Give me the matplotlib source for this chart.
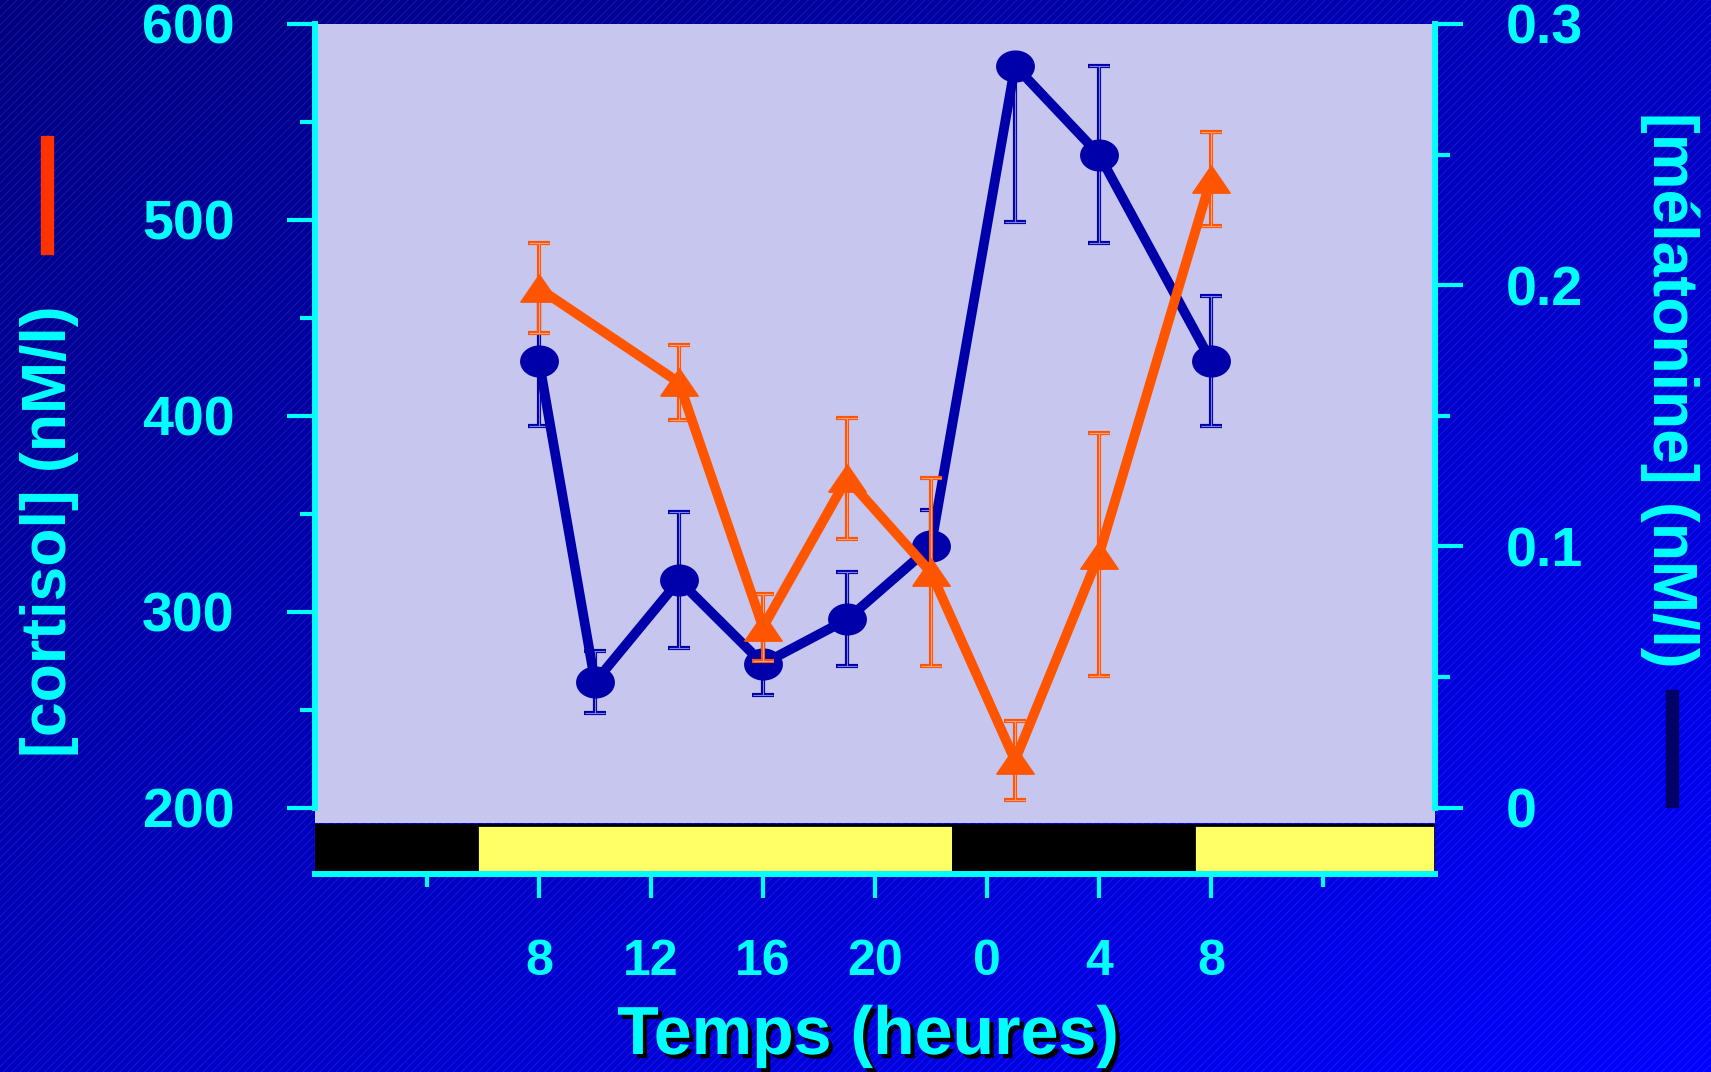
import numpy as np
import matplotlib
matplotlib.use("Agg")
import matplotlib.pyplot as plt
from matplotlib.patches import Rectangle
import matplotlib.patheffects as pe

# data
hours_mel = [8, 10, 13, 16, 19, 22, 25, 28, 32]
melatonine = [0.171, 0.048, 0.087, 0.055, 0.072, 0.100, 0.284, 0.250, 0.171]
mel_err_lo = [0.025, 0.012, 0.026, 0.012, 0.018, 0.014, 0.060, 0.034, 0.025]
mel_err_hi = [0.025, 0.012, 0.026, 0.012, 0.018, 0.014, 0.0, 0.034, 0.025]

hours_cort = [8, 13, 16, 19, 22, 25, 28, 32]
cortisol = [465, 417, 292, 368, 320, 224, 329, 521]
cort_err = [23, 19, 17, 31, 48, 20, 62, 24]

# light / dark bar under the plot
phase_start = [0, 5.8, 22.8, 31.4]
phase_end = [5.8, 22.8, 31.4, 40]
phase_color = ["black", "#FFFF66", "black", "#FFFF66"]

xticks = [8, 12, 16, 20, 24, 28, 32]
xtick_labels = ["8", "12", "16", "20", "0", "4", "8"]
xminor = [4, 36]
cort_ticks = [200, 300, 400, 500, 600]
cort_minor = [250, 350, 450, 550]
mel_ticks = [0, 0.1, 0.2, 0.3]
mel_tick_labels = ["0", "0.1", "0.2", "0.3"]
mel_minor = [0.05, 0.15, 0.25]

CYAN = "#00FFFF"
BLUE = "#0000AA"
ORANGE = "#FF5500"
LAVENDER = "#C6C6EE"

plt.rcParams["font.family"] = ["Liberation Sans", "DejaVu Sans"]
plt.rcParams["font.weight"] = "bold"
plt.rcParams["hatch.linewidth"] = 0.5
plt.rcParams["hatch.color"] = (0.6, 0.6, 1.0, 0.22)

W, H = 1711, 1072
fig = plt.figure(figsize=(W / 100, H / 100), dpi=100)

# blue gradient background with fine stripes
bg = fig.add_axes([0, 0, 1, 1], zorder=-10)
gx, gy = np.meshgrid(np.linspace(0, 1, 400), np.linspace(0, 1, 250))
t = 0.5 * gx + 0.5 * gy
img = np.zeros((250, 400, 3))
img[..., 2] = 0.5 + 0.5 * t
bg.imshow(img, extent=[0, 1, 0, 1], aspect="auto", origin="upper")
bg.add_patch(Rectangle((0, 0), 1, 1, transform=bg.transAxes, fill=False,
                       hatch="////", edgecolor=(0.6, 0.6, 1.0, 0.22), linewidth=0))
bg.set_xlim(0, 1)
bg.set_ylim(0, 1)
bg.axis("off")

# main axes (cortisol left, melatonin right)
top_px, bot_px, y200_px = 24, 823, 807.5
cort_low = 200 - (bot_px - y200_px) / (y200_px - top_px) * 400
ax = fig.add_axes([315 / W, (H - bot_px) / H, 1120 / W, (bot_px - top_px) / H])
ax2 = ax.twinx()
ax.set_zorder(ax2.get_zorder() + 1)
ax.patch.set_visible(False)
ax2.patch.set_visible(True)
ax2.set_facecolor(LAVENDER)

ax.set_xlim(0, 40)
ax.set_ylim(cort_low, 600)
ax2.set_ylim((cort_low - 200) * 0.3 / 400, 0.3)

for a in (ax, ax2):
    for s in ("top", "bottom"):
        a.spines[s].set_visible(False)
    a.tick_params(axis="x", bottom=False, labelbottom=False)
ax.spines["right"].set_visible(False)
ax2.spines["left"].set_visible(False)
ax.spines["left"].set_color(CYAN)
ax.spines["left"].set_linewidth(4.3)
ax.spines["left"].set_bounds(200, 600)
ax2.spines["right"].set_color(CYAN)
ax2.spines["right"].set_linewidth(4.3)
ax2.spines["right"].set_bounds(0, 0.3)

ax.set_yticks(cort_ticks)
ax.set_yticks(cort_minor, minor=True)
ax.tick_params(axis="y", which="major", length=20, width=3, color=CYAN,
               pad=38, labelsize=40, labelcolor=CYAN)
ax.tick_params(axis="y", which="minor", length=11, width=3, color=CYAN)

ax2.set_yticks(mel_ticks)
ax2.set_yticklabels(mel_tick_labels)
ax2.set_yticks(mel_minor, minor=True)
ax2.tick_params(axis="y", which="major", length=20, width=3, color=CYAN,
                pad=31, labelsize=40, labelcolor=CYAN)
ax2.tick_params(axis="y", which="minor", length=11, width=3, color=CYAN)

# marker shapes
th = np.linspace(0, 2 * np.pi, 40)
ellipse = list(zip(np.cos(th), 0.82 * np.sin(th)))
tri = [(-1, -0.73), (1, -0.73), (0, 0.73), (-1, -0.73)]

# melatonin
ax2.errorbar(hours_mel, melatonine, yerr=[mel_err_lo, mel_err_hi], fmt="none",
             ecolor=BLUE, elinewidth=3, capsize=8, capthick=3, zorder=2)
ax2.errorbar(hours_mel, melatonine, yerr=[mel_err_lo, mel_err_hi], fmt="none",
             ecolor="#8080DD", elinewidth=0.8, capsize=7, capthick=0.8, zorder=2.1)
ax2.plot(hours_mel, melatonine, color=BLUE, lw=7, marker=ellipse, ms=27,
         mec=BLUE, mfc=BLUE, zorder=3)

# cortisol
ax.errorbar(hours_cort, cortisol, yerr=cort_err, fmt="none",
            ecolor=ORANGE, elinewidth=3, capsize=8, capthick=3, zorder=2)
ax.errorbar(hours_cort, cortisol, yerr=cort_err, fmt="none",
            ecolor="#FFA080", elinewidth=0.8, capsize=7, capthick=0.8, zorder=2.1)
ax.plot(hours_cort, cortisol, color=ORANGE, lw=7, marker=tri, ms=27,
        mec=ORANGE, mfc=ORANGE, zorder=3)

# light / dark bar with the time axis
axb = fig.add_axes([315 / W, (H - 874) / H, 1120 / W, 51 / H])
axb.set_xlim(0, 40)
axb.set_ylim(0, 1)
axb.patch.set_visible(False)
for s0, s1, c in zip(phase_start, phase_end, phase_color):
    axb.barh(0.5, s1 - s0, left=s0, height=0.92, color=c, edgecolor="black", linewidth=2)
for s in ("top", "left", "right"):
    axb.spines[s].set_visible(False)
axb.spines["bottom"].set_color(CYAN)
axb.spines["bottom"].set_linewidth(4.3)
axb.set_yticks([])
axb.set_xticks(xticks)
axb.set_xticklabels(xtick_labels)
axb.set_xticks(xminor, minor=True)
axb.tick_params(axis="x", which="major", length=17, width=3, color=CYAN,
                pad=30, labelsize=36, labelcolor=CYAN)
axb.tick_params(axis="x", which="minor", length=9.5, width=3, color=CYAN)

# axis titles
fig.text(50 / W, 1 - 531 / H, "[cortisol] (nM/l)", rotation=90, ha="center", va="center",
         fontsize=45, color=CYAN)
fig.text(1670 / W, 1 - 390 / H, "[mélatonine] (nM/l)", rotation=270, ha="center", va="center",
         fontsize=45, color=CYAN)
fig.text(868 / W, 1 - 1036 / H, "Temps (heures)", ha="center", va="center",
         fontsize=49, color=CYAN,
         path_effects=[pe.SimplePatchShadow(offset=(3, -3), shadow_rgbFace="black", alpha=1),
                       pe.Normal()])

# colour keys beside the axis titles
fig.add_artist(Rectangle((41 / W, 1 - 254 / H), 12 / W, 118 / H, transform=fig.transFigure,
                         color="#FF3300"))
fig.add_artist(Rectangle((1666 / W, 1 - 807 / H), 12 / W, 117 / H, transform=fig.transFigure,
                         color="#000066"))

fig.savefig("out.png", dpi=100)
